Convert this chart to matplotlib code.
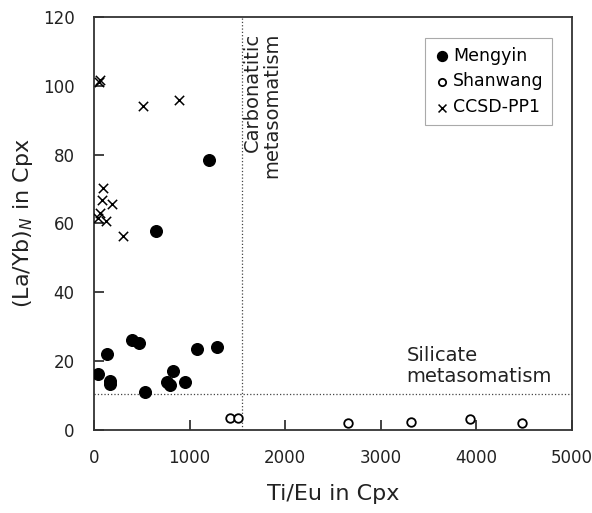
import matplotlib
matplotlib.use('Agg')
import matplotlib.pyplot as plt

# Mengyin (filled circles)
meng_x = [38, 133, 167, 167, 400, 474, 534, 760, 795, 823, 952, 1081, 1290, 1206, 649]
meng_y = [16.3, 22.0, 14.3, 13.2, 26.0, 25.2, 11.1, 13.8, 13.0, 17.2, 14.0, 23.5, 24.2, 78.4, 57.8]

# Shanwang (open circles)
shan_x = [1423, 1510, 2660, 3316, 3933, 4480]
shan_y = [3.6, 3.6, 1.9, 2.4, 3.2, 1.9]

# CCSD-PP1 (crosses)
ccsd_x = [63, 50, 516, 889, 91, 80, 191, 63, 126, 40, 300]
ccsd_y = [101.7, 101.0, 94.2, 95.9, 70.3, 66.9, 65.6, 63.0, 60.8, 61.5, 56.2]

carb_line = 1550
sil_line = 10.5

plt.rcParams['font.family'] = ['DejaVu Sans']

fig = plt.figure(figsize=(5.92, 5.13), dpi=100)
ax = fig.add_axes([0.159, 0.162, 0.807, 0.805])

ax.scatter(meng_x, meng_y, s=70, marker='o', color='black', label='Mengyin', zorder=3)
ax.scatter(shan_x, shan_y, s=38, marker='o', facecolors='white', edgecolors='black',
           linewidths=1.3, label='Shanwang', zorder=3)
ax.scatter(ccsd_x, ccsd_y, s=45, marker='x', color='black', linewidths=1.1,
           label='CCSD-PP1', zorder=3)

ax.axvline(carb_line, color='#444444', linestyle=':', linewidth=0.9, zorder=1)
ax.axhline(sil_line, color='#444444', linestyle=':', linewidth=0.9, zorder=1)

ax.text(1760, 115.5, 'Carbonatitic\nmetasomatism', rotation=90, ha='center', va='top',
        ma='right', fontsize=14, color='#222222', linespacing=1.0)
ax.text(3270, 12.8, 'Silicate\nmetasomatism', ha='left', va='bottom',
        fontsize=14, color='#222222', linespacing=1.1)

ax.set_xlim(0, 5000)
ax.set_ylim(0, 120)
ax.set_xticks([0, 1000, 2000, 3000, 4000, 5000])
ax.set_yticks([0, 20, 40, 60, 80, 100, 120])
ax.tick_params(direction='in', length=7, width=1.2, pad=14, labelsize=12,
               colors='#222222', top=False, right=False)

for s in ax.spines.values():
    s.set_linewidth(1.3)
    s.set_color('#333333')

ax.set_xlabel('Ti/Eu in Cpx', fontsize=16, color='#222222', labelpad=12)
ax.set_ylabel('(La/Yb)$_N$ in Cpx', fontsize=16, color='#222222', labelpad=6)

leg = ax.legend(loc='upper right', bbox_to_anchor=(0.977, 0.97), fontsize=12.5,
                handletextpad=0.1, handlelength=1.0, borderpad=0.5, labelspacing=0.45,
                markerscale=0.85, fancybox=False, edgecolor='#aaaaaa', framealpha=1)
leg.get_frame().set_linewidth(0.8)

fig.savefig('out.png', dpi=100)
